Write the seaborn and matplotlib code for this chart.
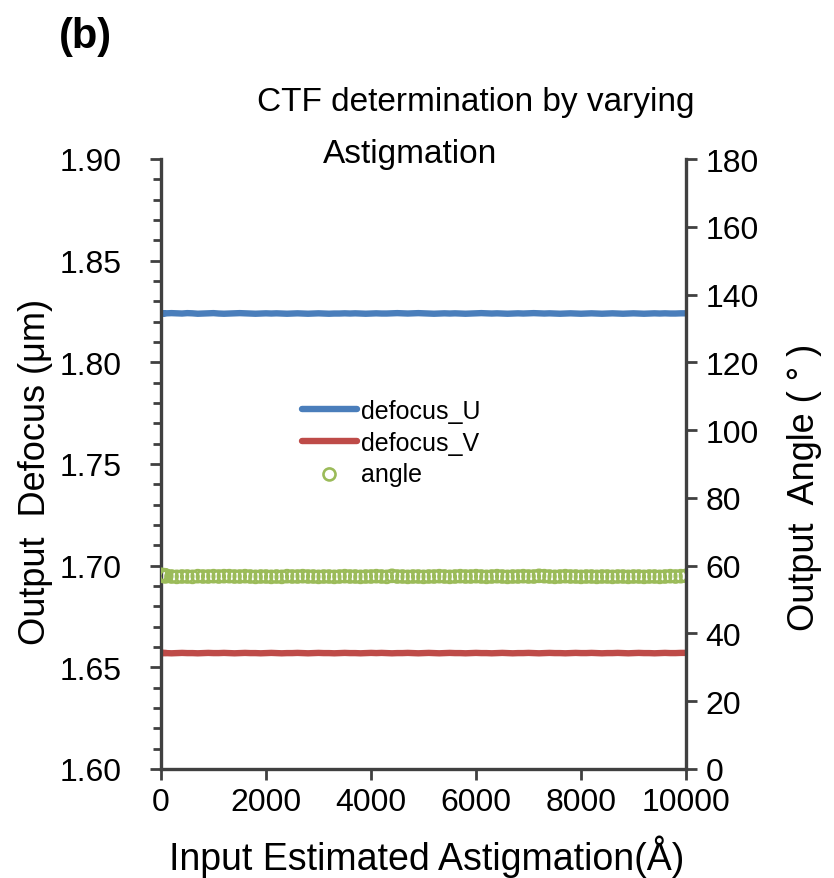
import numpy as np
import pandas as pd
import matplotlib
matplotlib.use("Agg")
import matplotlib.pyplot as plt
import seaborn as sns
from matplotlib.ticker import MultipleLocator

# ---------------- data ----------------
astig = [0, 10, 20, 30, 40, 50, 60, 70, 80, 90,
         100, 200, 300, 400, 500, 600, 700, 800, 900, 1000,
         1100, 1200, 1300, 1400, 1500, 1600, 1700, 1800, 1900, 2000,
         2100, 2200, 2300, 2400, 2500, 2600, 2700, 2800, 2900, 3000,
         3100, 3200, 3300, 3400, 3500, 3600, 3700, 3800, 3900, 4000,
         4100, 4200, 4300, 4400, 4500, 4600, 4700, 4800, 4900, 5000,
         5100, 5200, 5300, 5400, 5500, 5600, 5700, 5800, 5900, 6000,
         6100, 6200, 6300, 6400, 6500, 6600, 6700, 6800, 6900, 7000,
         7100, 7200, 7300, 7400, 7500, 7600, 7700, 7800, 7900, 8000,
         8100, 8200, 8300, 8400, 8500, 8600, 8700, 8800, 8900, 9000,
         9100, 9200, 9300, 9400, 9500, 9600, 9700, 9800, 9900, 10000]

defocus_U = [1.8236, 1.8238, 1.8239, 1.8240, 1.8240, 1.8241, 1.8240, 1.8241, 1.8240, 1.8241,
             1.8241, 1.8242, 1.8241, 1.8240, 1.8242, 1.8241, 1.8239, 1.8240, 1.8241, 1.8242,
             1.8240, 1.8239, 1.8240, 1.8241, 1.8242, 1.8241, 1.8240, 1.8239, 1.8240, 1.8241,
             1.8240, 1.8241, 1.8240, 1.8239, 1.8240, 1.8241, 1.8240, 1.8239, 1.8240, 1.8241,
             1.8240, 1.8239, 1.8240, 1.8240, 1.8241, 1.8240, 1.8241, 1.8240, 1.8239, 1.8240,
             1.8241, 1.8240, 1.8240, 1.8241, 1.8242, 1.8241, 1.8240, 1.8241, 1.8242, 1.8241,
             1.8240, 1.8239, 1.8240, 1.8241, 1.8240, 1.8241, 1.8240, 1.8239, 1.8240, 1.8241,
             1.8242, 1.8241, 1.8240, 1.8241, 1.8240, 1.8239, 1.8240, 1.8241, 1.8240, 1.8241,
             1.8242, 1.8241, 1.8240, 1.8241, 1.8240, 1.8239, 1.8240, 1.8241, 1.8240, 1.8239,
             1.8240, 1.8241, 1.8240, 1.8239, 1.8240, 1.8241, 1.8240, 1.8239, 1.8240, 1.8241,
             1.8240, 1.8239, 1.8240, 1.8241, 1.8240, 1.8241, 1.8240, 1.8240, 1.8241, 1.8241]

defocus_V = [1.6571, 1.6570, 1.6571, 1.6570, 1.6571, 1.6570, 1.6571, 1.6570, 1.6570, 1.6571,
             1.6570, 1.6569, 1.6570, 1.6571, 1.6570, 1.6570, 1.6569, 1.6570, 1.6571, 1.6570,
             1.6570, 1.6571, 1.6570, 1.6569, 1.6570, 1.6571, 1.6570, 1.6570, 1.6569, 1.6570,
             1.6571, 1.6570, 1.6569, 1.6570, 1.6570, 1.6571, 1.6570, 1.6569, 1.6570, 1.6571,
             1.6570, 1.6570, 1.6569, 1.6570, 1.6571, 1.6570, 1.6570, 1.6569, 1.6570, 1.6571,
             1.6570, 1.6571, 1.6570, 1.6569, 1.6570, 1.6570, 1.6571, 1.6570, 1.6569, 1.6570,
             1.6571, 1.6570, 1.6569, 1.6570, 1.6571, 1.6570, 1.6570, 1.6569, 1.6570, 1.6571,
             1.6570, 1.6570, 1.6569, 1.6570, 1.6571, 1.6570, 1.6569, 1.6570, 1.6570, 1.6571,
             1.6570, 1.6569, 1.6570, 1.6571, 1.6570, 1.6570, 1.6569, 1.6570, 1.6571, 1.6570,
             1.6570, 1.6571, 1.6570, 1.6569, 1.6570, 1.6570, 1.6571, 1.6570, 1.6569, 1.6570,
             1.6571, 1.6570, 1.6570, 1.6569, 1.6570, 1.6571, 1.6570, 1.6570, 1.6571, 1.6571]

angle = [57.3, 57.1, 57.2, 57.0, 57.1, 57.0, 57.2, 56.9, 57.0, 57.1,
         56.9, 56.8, 56.7, 56.8, 56.8, 56.7, 56.9, 56.8, 56.8, 56.9,
         56.8, 56.9, 56.9, 56.8, 56.8, 56.9, 56.8, 56.7, 56.8, 56.8,
         56.7, 56.8, 56.7, 56.9, 56.8, 56.8, 56.9, 56.8, 56.8, 56.7,
         56.8, 56.8, 56.7, 56.8, 56.9, 56.8, 56.8, 56.7, 56.8, 56.8,
         56.9, 56.8, 56.7, 57.0, 56.8, 56.8, 56.7, 56.8, 56.8, 56.7,
         56.8, 56.8, 56.9, 56.8, 56.7, 56.8, 56.9, 56.8, 56.8, 56.9,
         56.8, 56.7, 56.8, 56.9, 56.8, 56.7, 56.8, 56.8, 56.9, 56.8,
         56.8, 57.0, 56.9, 56.8, 56.7, 56.8, 56.9, 56.8, 56.8, 56.7,
         56.8, 56.8, 56.7, 56.8, 56.8, 56.7, 56.8, 56.8, 56.7, 56.8,
         56.8, 56.7, 56.8, 56.8, 56.7, 56.8, 56.9, 56.8, 56.9, 57.0]

y_left_ticks = [1.60, 1.65, 1.70, 1.75, 1.80, 1.85, 1.90]
y_right_ticks = [0, 20, 40, 60, 80, 100, 120, 140, 160, 180]
x_ticks = [0, 2000, 4000, 6000, 8000, 10000]

# ---------------- style ----------------
sns.set_theme(style="white")
plt.rcParams["font.family"] = ["Liberation Sans", "DejaVu Sans"]
plt.rcParams["text.color"] = "black"
plt.rcParams["axes.labelcolor"] = "black"
plt.rcParams["legend.labelcolor"] = "black"

BLUE = "#4A7EBB"
RED = "#BE4B48"
GREEN = "#9BBB59"
AX = "#404040"

df = pd.DataFrame({"x": astig, "U": defocus_U, "V": defocus_V, "angle": angle})

fig = plt.figure(figsize=(8.34, 8.79), dpi=100)
ax = fig.add_axes([161/834, 1-770/879, (686-161)/834, (770-160)/879])
ax2 = ax.twinx()

sns.lineplot(data=df, x="x", y="U", ax=ax, color=BLUE, lw=4.6, label="defocus_U")
sns.lineplot(data=df, x="x", y="V", ax=ax, color=RED, lw=4.6, label="defocus_V")
sns.scatterplot(data=df, x="x", y="angle", ax=ax2, marker="o", s=75,
                facecolor="none", edgecolor=GREEN, linewidth=1.9, label="angle")

ax.set_xlim(0, 10000)
ax.set_ylim(1.60, 1.90)
ax2.set_ylim(0, 180)
ax.set_xticks(x_ticks)
ax.set_yticks(y_left_ticks)
ax.set_yticklabels([f"{v:.2f}" for v in y_left_ticks])
ax.yaxis.set_minor_locator(MultipleLocator(0.01))
ax2.set_yticks(y_right_ticks)

tick_fs = 23
ax.tick_params(axis="x", which="major", direction="out", length=8, width=2,
               color=AX, labelsize=tick_fs, labelcolor="black", pad=5, bottom=True)
ax.tick_params(axis="y", which="major", direction="out", length=8, width=2,
               color=AX, labelsize=tick_fs, labelcolor="black", pad=20, left=True)
ax.tick_params(axis="y", which="minor", direction="out", length=6, width=2, color=AX, left=True)
ax2.tick_params(axis="y", which="major", direction="out", length=8, width=2,
                color=AX, labelsize=tick_fs, labelcolor="black", right=True, pad=6)

for a in (ax, ax2):
    for s in ("left", "right", "bottom"):
        a.spines[s].set_color(AX)
        a.spines[s].set_linewidth(2.4)
    a.spines["top"].set_visible(False)
    a.grid(False)
ax.spines["right"].set_visible(False)
ax2.spines["left"].set_visible(False)
ax2.spines["bottom"].set_visible(False)

ax.set_xlabel("Input Estimated Astigmation(Å)", fontsize=27, color="black")
ax.set_ylabel("Output  Defocus (μm)", fontsize=26, color="black")
ax2.set_ylabel("Output  Angle ( ° )", fontsize=26, rotation=90, color="black")
ax.xaxis.set_label_coords(0.507, -0.108)
ax.yaxis.set_label_coords(-0.206, 0.489)
ax2.yaxis.set_label_coords(1.192, 0.463)

fig.text(476/834, 1-103/879, "CTF determination by varying", fontsize=24,
         ha="center", va="center", color="black")
fig.text(410/834, 1-155/879, "Astigmation", fontsize=24, ha="center", va="center",
         color="black")
fig.text(85/834, 1-37/879, "(b)", fontsize=30, fontweight="bold", ha="center",
         va="center", color="black")

h1, l1 = ax.get_legend_handles_labels()
h2, l2 = ax2.get_legend_handles_labels()
if ax2.get_legend():
    ax2.get_legend().remove()
leg = ax.legend(h1 + h2, l1 + l2, loc="upper left",
                bbox_to_anchor=(302/834, 1-400/879), bbox_transform=fig.transFigure,
                frameon=False, fontsize=18, handlelength=2.2, handletextpad=0.15,
                labelspacing=0.3, borderpad=0, borderaxespad=0)
for t in leg.get_texts():
    t.set_color("black")

fig.savefig("out.png", dpi=100)
